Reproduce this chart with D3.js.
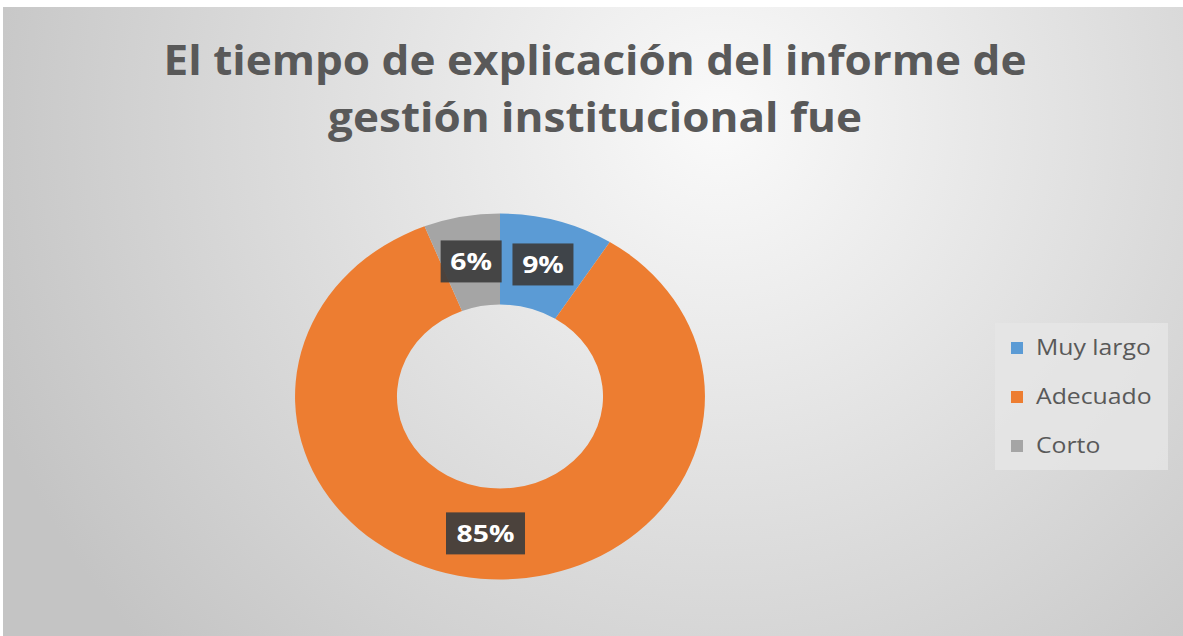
<!DOCTYPE html>
<html>
<head>
<meta charset="utf-8">
<script src="https://cdn.jsdelivr.net/npm/d3@7"></script>
<style>
  html, body { margin: 0; padding: 0; background: #fff; }
  svg { display: block; }
</style>
</head>
<body>
<svg id="grafico" width="1183" height="636"></svg>
<script>
const categorias = ["Muy largo", "Adecuado", "Corto"];
const valores = [9, 85, 6];
const etiquetas = ["9%", "85%", "6%"];
const colores = ["#5b9bd5", "#ed7d31", "#a5a5a5"];
const titulo = ["El tiempo de explicación del informe de", "gestión institucional fue"];

const width = 1183, height = 636;
const svg = d3.select("#grafico");

// fondo con degradado radial como el original
const defs = svg.append("defs");
const grad = defs.append("radialGradient")
    .attr("id", "fondo")
    .attr("gradientUnits", "userSpaceOnUse")
    .attr("cx", 720).attr("cy", 120).attr("r", 780);
grad.append("stop").attr("offset", "0%").attr("stop-color", "#fafafa");
grad.append("stop").attr("offset", "100%").attr("stop-color", "#c4c4c4");

svg.append("rect")
    .attr("x", 3).attr("y", 7)
    .attr("width", width - 3).attr("height", height - 7)
    .attr("fill", "url(#fondo)");

// titulo (la imagen original esta estirada en horizontal)
svg.append("g").selectAll("text")
    .data(titulo)
    .join("text")
    .attr("transform", (d, i) => `translate(595,${75 + i * 57}) scale(1.075,1)`)
    .attr("text-anchor", "middle")
    .attr("font-family", "'Open Sans', sans-serif")
    .attr("font-weight", "bold")
    .attr("font-size", 41)
    .attr("fill", "#595959")
    .text(d => d);

// anillo
const cx = 500, cy = 396.5, rOut = 183, rIn = 92, sx = 1.12;
const datos = categorias.map((c, i) => ({ cat: c, valor: valores[i], etiqueta: etiquetas[i], color: colores[i] }));

const pie = d3.pie().sort(null).value(d => d.valor);
const arc = d3.arc().innerRadius(rIn).outerRadius(rOut);
const arcos = pie(datos);

const gDona = svg.append("g")
    .attr("transform", `translate(${cx},${cy}) scale(${sx},1)`);

gDona.selectAll("path")
    .data(arcos)
    .join("path")
    .attr("d", arc)
    .attr("fill", d => d.data.color);

// etiquetas de datos
const gEtiq = svg.append("g");
const etiq = gEtiq.selectAll("g")
    .data(arcos)
    .join("g")
    .attr("transform", d => {
        const [x, y] = arc.centroid(d);
        return `translate(${cx + x * sx},${cy + y})`;
    });

etiq.append("rect")
    .attr("x", d => d.data.etiqueta.length > 2 ? -39.5 : -30.5)
    .attr("y", -21)
    .attr("width", d => d.data.etiqueta.length > 2 ? 79 : 61)
    .attr("height", 42)
    .attr("fill", "#3d3d3d")
    .attr("opacity", 0.92);

etiq.append("text")
    .attr("transform", "scale(1.18,1)")
    .attr("text-anchor", "middle")
    .attr("dy", "0.36em")
    .attr("font-family", "'Open Sans', sans-serif")
    .attr("font-weight", "bold")
    .attr("font-size", 24)
    .attr("fill", "#ffffff")
    .text(d => d.data.etiqueta);

// leyenda
const leyenda = svg.append("g");
leyenda.append("rect")
    .attr("x", 995).attr("y", 323)
    .attr("width", 173).attr("height", 147)
    .attr("fill", "#e6e6e6")
    .attr("opacity", 0.8);

const item = leyenda.selectAll("g")
    .data(datos)
    .join("g")
    .attr("transform", (d, i) => `translate(1011,${348 + i * 49})`);

item.append("rect")
    .attr("x", 0).attr("y", -6)
    .attr("width", 12).attr("height", 12)
    .attr("fill", d => d.color);

item.append("text")
    .attr("transform", "translate(25,0) scale(1.18,1)")
    .attr("dy", "0.35em")
    .attr("font-family", "'Open Sans', sans-serif")
    .attr("font-size", 21)
    .attr("fill", "#595959")
    .text(d => d.cat);
</script>
</body>
</html>
